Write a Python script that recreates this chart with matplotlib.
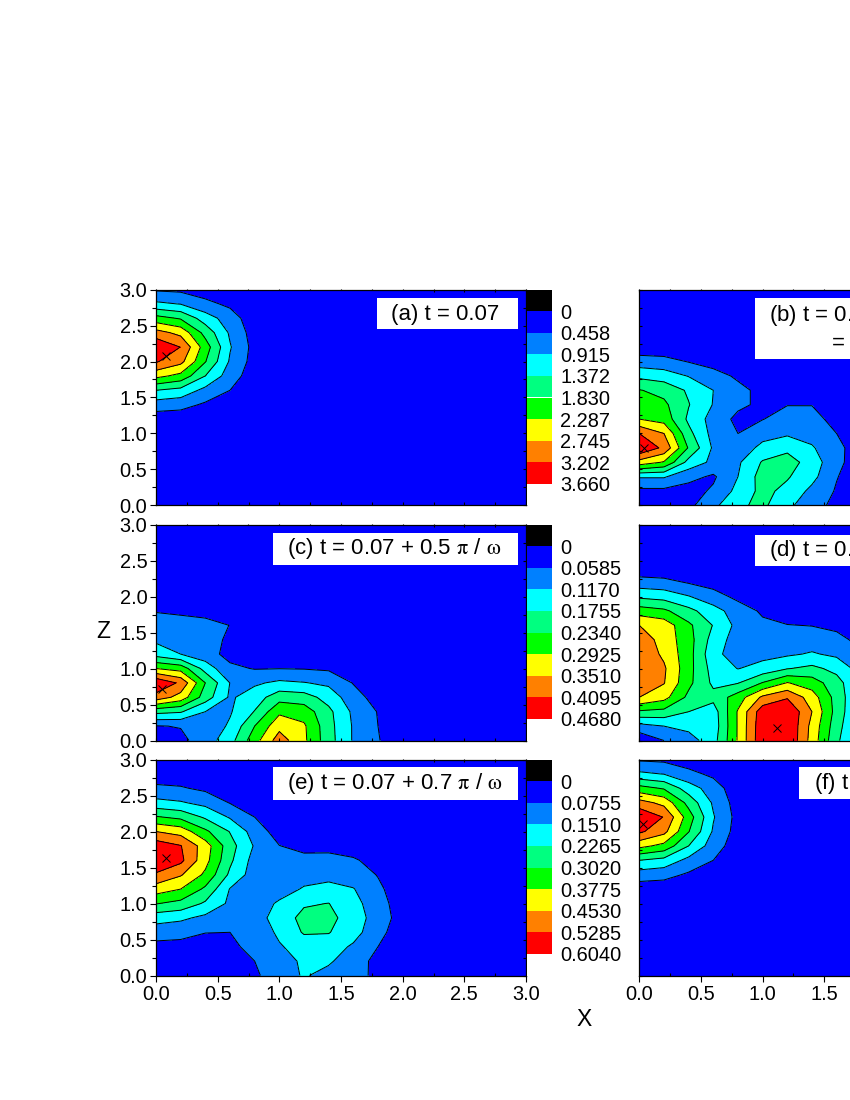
import numpy as np
from matplotlib import pyplot as plt
from matplotlib.patches import Rectangle
from matplotlib.ticker import MultipleLocator

plt.rcParams['font.family'] = ['Liberation Sans', 'DejaVu Sans']
plt.rcParams['mathtext.fontset'] = 'stix'

# grid of the calculation, rows below go from z = 3.0 down to z = 0.0
x_grid = [0.0, 0.2, 0.4, 0.6, 0.8, 1.0, 1.2, 1.4, 1.6, 1.8, 2.0, 2.2]
z_grid = [3.0, 2.8, 2.6, 2.4, 2.2, 2.0, 1.8, 1.6, 1.4, 1.2, 1.0, 0.8, 0.6, 0.4, 0.2, 0.0]

# density, in units of one contour step
grid_a = [
	[.87, .78, .50, .28, .07, .02, 0, 0, 0, 0, 0, 0],
	[2.2, 1.96, 1.27, .79, .20, .05, 0, 0, 0, 0, 0, 0],
	[4.4, 3.9, 2.5, 1.5, .37, .09, 0, 0, 0, 0, 0, 0],
	[6.4, 5.7, 3.65, 1.86, .55, .13, 0, 0, 0, 0, 0, 0],
	[7.9, 6.98, 4.5, 2.08, .66, .17, 0, 0, 0, 0, 0, 0],
	[7.1, 6.3, 4.05, 1.88, .60, .15, 0, 0, 0, 0, 0, 0],
	[5.3, 4.7, 3.0, 1.49, .44, .11, 0, 0, 0, 0, 0, 0],
	[3.0, 2.67, 1.7, 1.0, .25, .07, 0, 0, 0, 0, 0, 0],
	[1.5, 1.35, .85, .48, .13, .03, 0, 0, 0, 0, 0, 0],
	[.44, .40, .25, .17, .04, .01, 0, 0, 0, 0, 0, 0],
	[.11, .10, .05, .03, 0, 0, 0, 0, 0, 0, 0, 0],
	[0, 0, 0, 0, 0, 0, 0, 0, 0, 0, 0, 0],
	[0, 0, 0, 0, 0, 0, 0, 0, 0, 0, 0, 0],
	[0, 0, 0, 0, 0, 0, 0, 0, 0, 0, 0, 0],
	[0, 0, 0, 0, 0, 0, 0, 0, 0, 0, 0, 0],
	[0, 0, 0, 0, 0, 0, 0, 0, 0, 0, 0, 0],
]

grid_b = [
	[0, 0, 0, 0, 0, 0, 0, 0, 0, 0, 0, 0],
	[0, 0, 0, 0, 0, 0, 0, 0, 0, 0, 0, 0],
	[0, 0, 0, 0, 0, 0, 0, 0, 0, 0, 0, 0],
	[.05, .03, .01, 0, 0, 0, 0, 0, 0, 0, 0, 0],
	[.40, .35, .12, .03, 0, 0, 0, 0, 0, 0, 0, 0],
	[1.45, 1.35, .95, .65, .25, .05, .02, .01, 0, 0, 0, 0],
	[2.75, 2.5, 1.95, 1.35, .85, .30, .10, .08, .04, .02, 0, 0],
	[4.05, 3.7, 2.85, 2.0, 1.25, .75, .30, .30, .12, .05, .01, 0],
	[4.5, 4.2, 3.05, 1.95, 1.2, .80, .97, .98, .35, .10, .02, 0],
	[5.0, 4.6, 2.8, 1.6, .75, .97, 1.4, 1.25, .75, .20, .05, 0],
	[7.0, 6.0, 3.3, 1.65, 1.0, 1.6, 1.85, 1.65, 1.0, .30, .05, 0],
	[7.95, 6.75, 3.9, 1.85, 1.35, 2.3, 2.75, 2.1, 1.3, .40, .08, 0],
	[5.6, 4.9, 2.65, 1.75, 1.85, 3.1, 3.45, 2.55, 1.25, .45, .10, 0],
	[2.1, 2.1, 1.3, .85, 2.0, 3.45, 3.1, 2.3, 1.05, .35, .08, 0],
	[.75, .75, .60, 1.15, 2.3, 3.3, 2.7, 1.75, .90, .30, .05, 0],
	[.30, .30, .75, 1.75, 2.85, 3.2, 2.25, 1.35, .75, .25, .05, 0],
]

grid_c = [
	[0, 0, 0, 0, 0, 0, 0, 0, 0, 0, 0, 0],
	[0, 0, 0, 0, 0, 0, 0, 0, 0, 0, 0, 0],
	[0, 0, 0, 0, 0, 0, 0, 0, 0, 0, 0, 0],
	[0, 0, 0, 0, 0, 0, 0, 0, 0, 0, 0, 0],
	[0, 0, 0, 0, 0, 0, 0, 0, 0, 0, 0, 0],
	[.30, .20, .15, .15, .05, 0, 0, 0, 0, 0, 0, 0],
	[.95, .85, .60, .50, .10, .05, .02, 0, 0, 0, 0, 0],
	[1.4, 1.35, 1.4, .98, .30, .10, .05, .03, .02, 0, 0, 0],
	[1.8, 1.55, 1.35, .85, .40, .15, .10, .10, .05, .02, 0, 0],
	[2.6, 2.0, 1.4, .70, .35, .30, .30, .25, .15, .05, .02, 0],
	[5.0, 4.6, 2.6, 1.2, .95, .98, .95, .85, .40, .10, .03, 0],
	[7.9, 6.8, 4.0, 1.98, 1.85, 2.2, 2.05, 1.8, .95, .30, .10, .02],
	[6.6, 5.6, 3.5, 1.85, 2.5, 3.6, 3.45, 2.6, 1.4, .60, .20, .05],
	[3.3, 3.1, 2.0, 1.9, 3.05, 4.8, 4.55, 3.25, 1.8, .95, .30, .08],
	[.95, 1.05, 1.3, 2.15, 4.0, 5.7, 5.15, 3.35, 1.9, 1.0, .40, .10],
	[.40, .75, 1.5, 2.6, 4.6, 6.5, 5.2, 3.4, 1.9, 1.05, .45, .10],
]

grid_d = [
	[0, 0, 0, 0, 0, 0, 0, 0, 0, 0, 0, 0],
	[0, 0, 0, 0, 0, 0, 0, 0, 0, 0, 0, 0],
	[.03, .02, .01, .01, 0, 0, 0, 0, 0, 0, 0, 0],
	[.30, .20, .10, .08, .03, .01, 0, 0, 0, 0, 0, 0],
	[1.4, 1.3, .90, .60, .25, .10, .05, .03, .02, .01, 0, 0],
	[2.8, 2.6, 2.05, 1.4, .75, .40, .20, .20, .15, .10, .05, .02],
	[4.5, 4.2, 3.3, 2.4, 1.5, .85, .50, .45, .35, .20, .10, .05],
	[6.0, 5.6, 4.2, 2.95, 1.7, 1.2, 1.03, .97, .80, .40, .20, .10],
	[6.6, 5.6, 4.4, 2.6, 1.5, 1.45, 1.35, 1.5, 1.25, .75, .40, .20],
	[6.8, 5.8, 4.4, 2.3, 1.5, 1.7, 1.85, 2.1, 1.8, 1.1, .55, .25],
	[6.85, 6.15, 4.35, 2.6, 1.97, 2.35, 2.95, 3.25, 2.7, 1.55, .75, .30],
	[6.5, 6.05, 4.25, 2.8, 2.95, 4.05, 5.05, 4.5, 3.4, 1.95, .90, .35],
	[6.0, 5.35, 3.75, 3.3, 4.5, 6.2, 6.9, 5.5, 3.6, 1.9, .90, .35],
	[3.85, 3.7, 3.0, 2.5, 5.1, 7.6, 7.95, 6.0, 3.6, 1.8, .85, .30],
	[1.65, 2.0, 2.3, 2.4, 5.1, 7.75, 7.98, 5.7, 3.4, 1.7, .80, .30],
	[.20, 1.0, 1.55, 2.6, 5.1, 7.8, 7.98, 5.6, 3.2, 1.6, .75, .30],
]

grid_e = [
	[.10, .10, .05, .03, .01, 0, 0, 0, 0, 0, 0, 0],
	[.45, .40, .25, .12, .03, .01, 0, 0, 0, 0, 0, 0],
	[1.2, 1.1, .80, .35, .12, .03, .01, 0, 0, 0, 0, 0],
	[2.3, 2.1, 1.7, .95, .45, .07, .03, .02, .01, 0, 0, 0],
	[4.1, 3.75, 2.85, 1.9, 1.0, .25, .10, .08, .05, .02, 0, 0],
	[6.0, 5.6, 4.2, 2.95, 1.55, .55, .30, .25, .20, .10, .03, 0],
	[7.6, 7.05, 5.5, 3.4, 1.9, 1.02, .70, .70, .60, .35, .10, .02],
	[7.95, 7.25, 5.35, 3.2, 1.6, 1.4, 1.3, 1.32, 1.1, .70, .20, .05],
	[6.85, 6.1, 4.8, 2.8, 1.5, 1.35, 1.6, 1.75, 1.5, .95, .30, .08],
	[5.5, 5.0, 3.8, 1.95, 1.5, 1.55, 2.1, 2.25, 2.05, 1.2, .40, .10],
	[4.05, 3.7, 2.85, 1.8, 1.45, 2.15, 2.88, 3.02, 2.35, 1.4, .50, .10],
	[2.4, 2.2, 1.75, 1.5, 1.55, 2.45, 3.3, 3.3, 2.5, 1.55, .55, .10],
	[1.45, 1.3, 1.02, 1.0, 1.3, 2.2, 3.1, 3.05, 2.4, 1.3, .45, .10],
	[.70, .70, .65, .82, 1.25, 1.9, 2.45, 2.5, 1.85, 1.0, .35, .08],
	[.30, .30, .30, .50, 1.0, 1.5, 2.2, 2.15, 1.4, .75, .25, .05],
	[.15, .15, .15, .35, .85, 1.5, 2.1, 1.65, 1.3, .80, .25, .05],
]

grid_f = [
	[.87, .78, .50, .28, .07, .02, 0, 0, 0, 0, 0, 0],
	[2.2, 1.96, 1.27, .79, .20, .05, 0, 0, 0, 0, 0, 0],
	[4.4, 3.9, 2.5, 1.5, .37, .09, 0, 0, 0, 0, 0, 0],
	[6.4, 5.7, 3.65, 1.86, .55, .13, 0, 0, 0, 0, 0, 0],
	[7.9, 6.95, 4.5, 2.08, .66, .17, 0, 0, 0, 0, 0, 0],
	[7.2, 6.3, 4.05, 1.88, .60, .15, 0, 0, 0, 0, 0, 0],
	[5.3, 4.7, 3.0, 1.49, .44, .11, 0, 0, 0, 0, 0, 0],
	[3.0, 2.67, 1.7, 1.0, .25, .07, 0, 0, 0, 0, 0, 0],
	[1.5, 1.35, .85, .48, .13, .03, 0, 0, 0, 0, 0, 0],
	[.44, .40, .25, .17, .04, .01, 0, 0, 0, 0, 0, 0],
	[.11, .10, .05, .03, 0, 0, 0, 0, 0, 0, 0, 0],
	[0, 0, 0, 0, 0, 0, 0, 0, 0, 0, 0, 0],
	[0, 0, 0, 0, 0, 0, 0, 0, 0, 0, 0, 0],
	[0, 0, 0, 0, 0, 0, 0, 0, 0, 0, 0, 0],
	[0, 0, 0, 0, 0, 0, 0, 0, 0, 0, 0, 0],
	[0, 0, 0, 0, 0, 0, 0, 0, 0, 0, 0, 0],
]

# colour scale labels, the right hand scales fall outside the page
labels_a = ['0', '0.458', '0.915', '1.372', '1.830', '2.287', '2.745', '3.202', '3.660']
labels_c = ['0', '0.0585', '0.1170', '0.1755', '0.2340', '0.2925', '0.3510', '0.4095', '0.4680']
labels_e = ['0', '0.0755', '0.1510', '0.2265', '0.3020', '0.3775', '0.4530', '0.5285', '0.6040']

# maximum of each panel
peak_a = (0.08, 2.07)
peak_b = (0.04, 0.80)
peak_c = (0.05, 0.72)
peak_d = (1.12, 0.18)
peak_e = (0.08, 1.63)
peak_f = (0.03, 2.10)

band_colors = ['#0000ff', '#0080ff', '#00ffff', '#00ff80', '#00ff00', '#ffff00', '#ff8000', '#ff0000']

W = 850.0
H = 1100.0
FS = 14.4
BOX_FS = 16.0


def _axes_px(fig, left, top, width, height):
	return fig.add_axes([left / W, 1 - (top + height) / H, width / W, height / H])


def _panel(fig, left, top, grid, peak, bottom_row, left_col, labels=None):
	ax = _axes_px(fig, left, top, 370, 216)
	ax.set_facecolor('#0000ff')

	if labels is None:
		levels = np.arange(9.0)
		Z = np.array(grid)[::-1]
	else:
		levels = np.array(labels, dtype=float)
		Z = np.array(grid)[::-1] * levels[-1] / 8

	xg = np.array(x_grid)
	zg = np.array(z_grid)[::-1]
	ax.contourf(xg, zg, Z, levels=levels, colors=band_colors)
	ax.contour(xg, zg, Z, levels=levels[1:], colors='k', linewidths=0.7)
	ax.plot([peak[0]], [peak[1]], 'x', color='k', ms=5.5, mew=0.7)

	ax.set_xlim(0, 3)
	ax.set_ylim(0, 3)
	ax.xaxis.set_major_locator(MultipleLocator(0.5))
	ax.xaxis.set_minor_locator(MultipleLocator(0.25))
	ax.yaxis.set_major_locator(MultipleLocator(0.5))
	ax.yaxis.set_minor_locator(MultipleLocator(0.25))

	if bottom_row:
		ax.tick_params(axis='x', which='major', direction='out', length=4.2, width=0.8, pad=2.5, labelsize=FS)
		ax.tick_params(axis='x', which='minor', direction='in', length=2.4, width=0.8)
	else:
		ax.tick_params(axis='x', which='both', direction='in', length=2.4, width=0.8, labelbottom=False)

	if left_col:
		ax.tick_params(axis='y', which='major', direction='out', length=4.2, width=0.8, pad=2, labelsize=FS)
		ax.tick_params(axis='y', which='minor', direction='out', length=2.6, width=0.8)
	else:
		ax.tick_params(axis='y', which='both', direction='in', length=2.4, width=0.8, labelleft=False)

	# top and right carry short inward ticks only
	top_ax = ax.secondary_xaxis('top')
	top_ax.set_xticks(np.arange(0, 3.01, 0.25))
	top_ax.tick_params(direction='in', length=2.4, width=0.8, labeltop=False)
	top_ax.spines['top'].set_visible(False)
	right_ax = ax.secondary_yaxis('right')
	right_ax.set_yticks(np.arange(0, 3.01, 0.25))
	right_ax.tick_params(direction='in', length=2.4, width=0.8, labelright=False)
	right_ax.spines['right'].set_visible(False)

	for sp in ax.spines.values():
		sp.set_linewidth(0.9)
		sp.set_zorder(6)
	return ax


def _label(ax, box, start, text, z):
	ax.add_patch(Rectangle((box[0], box[2]), box[1] - box[0], box[3] - box[2], fc='white', ec='none', zorder=4))
	ax.text(start, z, text, fontsize=BOX_FS, va='center', ha='left', zorder=5)


def _scale(fig, top, labels):
	cax = _axes_px(fig, 526.7, top, 25.6, 216)
	colors = ['black'] + band_colors
	for i, c in enumerate(colors):
		cax.bar(0.5, 1, bottom=i, width=1, color=c)
	cax.set_xlim(0, 1)
	cax.set_ylim(10, 0)
	cax.set_xticks([])
	cax.set_yticks(np.arange(1, 10))
	cax.set_yticklabels(labels)
	cax.yaxis.tick_right()
	cax.tick_params(axis='y', length=0, pad=5.6, labelsize=FS)
	for sp in cax.spines.values():
		sp.set_visible(False)


def _plot_all():
	fig = plt.figure(figsize=(8.5, 11), dpi=100)

	ax = _panel(fig, 156, 289.5, grid_a, peak_a, False, True, labels_a)
	_label(ax, (1.79, 2.933, 2.447, 2.886), 1.905, '(a) t = 0.07', 2.65)
	_scale(fig, 289.5, labels_a)

	ax = _panel(fig, 639.3, 289.5, grid_b, peak_b, False, False)
	_label(ax, (0.94, 2.935, 2.03, 2.875), 1.054, r'(b) t = 0.07 + 0.3 $\mathrm{\pi}$ / $\mathrm{\omega}$', 2.64)
	ax.text(1.565, 2.25, '= 0.07', fontsize=BOX_FS, va='center', ha='left', zorder=5)

	ax = _panel(fig, 156, 524.5, grid_c, peak_c, False, True, labels_c)
	_label(ax, (0.949, 2.935, 2.444, 2.879), 1.065, r'(c) t = 0.07 + 0.5 $\mathrm{\pi}$ / $\mathrm{\omega}$', 2.66)
	_scale(fig, 524.5, labels_c)

	ax = _panel(fig, 639.3, 524.5, grid_d, peak_d, False, False)
	_label(ax, (0.94, 2.935, 2.417, 2.86), 1.054, r'(d) t = 0.07 + 0.6 $\mathrm{\pi}$ / $\mathrm{\omega}$', 2.64)

	ax = _panel(fig, 156, 759.5, grid_e, peak_e, True, True, labels_e)
	_label(ax, (0.949, 2.935, 2.444, 2.889), 1.065, r'(e) t = 0.07 + 0.7 $\mathrm{\pi}$ / $\mathrm{\omega}$', 2.66)
	_scale(fig, 759.5, labels_e)

	ax = _panel(fig, 639.3, 759.5, grid_f, peak_f, True, False)
	ax.tick_params(axis='x', which='major', labelbottom=True)
	_label(ax, (1.297, 2.935, 2.458, 2.889), 1.42, r'(f) t = 0.07 + $\mathrm{\pi}$ / $\mathrm{\omega}$', 2.67)

	fig.text(103 / W, 1 - 632 / H, 'Z', fontsize=16.5, ha='center', va='center')
	fig.text(584 / W, 1 - 1019 / H, 'X', fontsize=16.5, ha='center', va='center')

	fig.savefig('out.png', dpi=100)


if __name__ == '__main__':

	_plot_all()
